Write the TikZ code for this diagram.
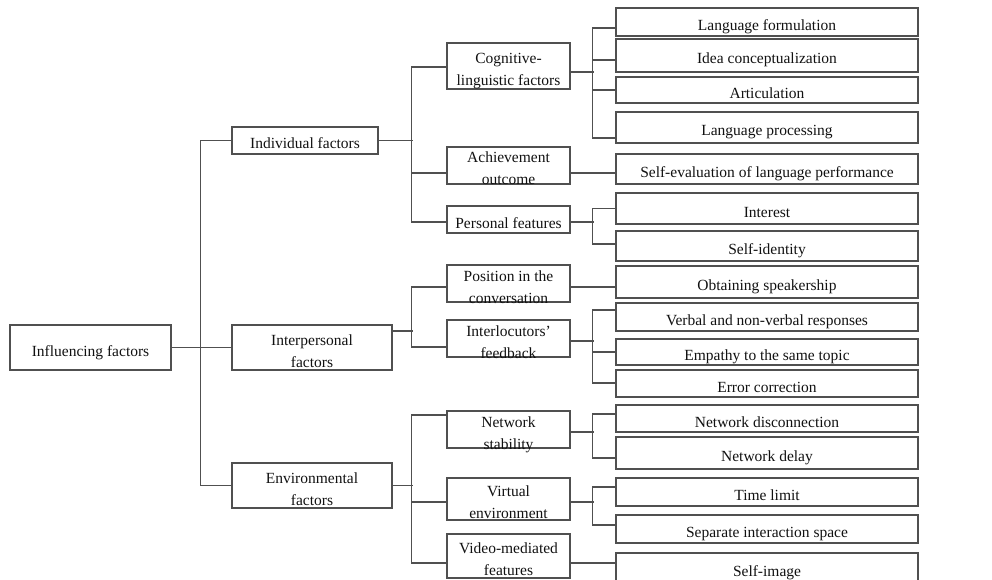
\documentclass[tikz,border=0pt]{standalone}
\usepackage{fontspec}
\setmainfont{Liberation Serif}
\usetikzlibrary{calc}
\definecolor{ln}{HTML}{505050}
\definecolor{tx}{HTML}{111111}
\newcommand{\tl}[1]{\raisebox{-7.7pt}[0pt][0pt]{\begin{tabular}{@{}c@{}}#1\end{tabular}}}
\begin{document}
\begin{tikzpicture}[x=1pt,y=-1pt,
  bx/.style={draw=ln, line width=1.2pt, inner sep=0pt, text=tx,
    font=\fontsize{15.5}{22}\selectfont},
  ln/.style={draw=ln, line width=1.2pt}]
\useasboundingbox (0,0) rectangle (992,580);
% level 0
\node[bx, minimum width=161, minimum height=45] (root) at (90.5,347.5) {\tl{Influencing factors}};
% level 1
\node[bx, minimum width=146, minimum height=27] (ind) at (305,140.5) {\tl{Individual factors}};
\node[bx, minimum width=160, minimum height=45] (inter) at (312,347.5) {\tl{Interpersonal\\factors}};
\node[bx, minimum width=160, minimum height=45] (env) at (312,485.5) {\tl{Environmental\\factors}};
% level 2
\tikzset{l2/.style={bx, minimum width=123}}
\node[l2, minimum height=46] (cog) at (508.5,66) {\tl{Cognitive-\\linguistic factors}};
\node[l2, minimum height=37] (ach) at (508.5,165.5) {\tl{Achievement\\outcome}};
\node[l2, minimum height=27] (pers) at (508.5,219.5) {\tl{Personal features}};
\node[l2, minimum height=37] (pos) at (508.5,283.5) {\tl{Position in the\\conversation}};
\node[l2, minimum height=37] (fb) at (508.5,338.5) {\tl{Interlocutors'\\feedback}};
\node[l2, minimum height=37] (net) at (508.5,429.5) {\tl{Network\\stability}};
\node[l2, minimum height=42] (virt) at (508.5,499) {\tl{Virtual\\environment}};
\node[l2, minimum height=44] (vid) at (508.5,556) {\tl{Video-mediated\\features}};
% level 3
\tikzset{l3/.style={bx, minimum width=302}}
\node[l3, minimum height=28] (lf) at (767,22) {\tl{Language formulation}};
\node[l3, minimum height=33] (ic) at (767,55.5) {\tl{Idea conceptualization}};
\node[l3, minimum height=26] (art) at (767,90) {\tl{Articulation}};
\node[l3, minimum height=31] (lp) at (767,127.5) {\tl{Language processing}};
\node[l3, minimum height=30] (se) at (767,169) {\tl{Self-evaluation of language performance}};
\node[l3, minimum height=31] (int) at (767,208.5) {\tl{Interest}};
\node[l3, minimum height=30] (sid) at (767,246) {\tl{Self-identity}};
\node[l3, minimum height=32] (obt) at (767,282) {\tl{Obtaining speakership}};
\node[l3, minimum height=28] (vb) at (767,317) {\tl{Verbal and non-verbal responses}};
\node[l3, minimum height=26] (emp) at (767,352) {\tl{Empathy to the same topic}};
\node[l3, minimum height=27] (err) at (767,383.5) {\tl{Error correction}};
\node[l3, minimum height=27] (nd) at (767,418.5) {\tl{Network disconnection}};
\node[l3, minimum height=32] (ndl) at (767,453) {\tl{Network delay}};
\node[l3, minimum height=28] (tl) at (767,492) {\tl{Time limit}};
\node[l3, minimum height=28] (sep) at (767,529) {\tl{Separate interaction space}};
\node[l3, minimum height=30] (si) at (767,568) {\tl{Self-image}};
% connectors level 0-1
\draw[ln] (root.east) -- (inter.west);
\draw[ln] (ind.west) -- ++(-31,0) |- (env.west);
% individual
\draw[ln] (ind.east) -- ++(34,0);
\draw[ln] ($(cog.west)+(0,1)$) -- ++(-35,0) |- ($(pers.west)+(0,2.5)$);
\draw[ln] ($(ach.west)+(0,7.5)$) -- ++(-35,0);
% interpersonal
\draw[ln] ($(inter.east)+(0,-16.5)$) -- ++(20,0);
\draw[ln] ($(pos.west)+(0,3.5)$) -- ++(-35,0) |- ($(fb.west)+(0,8.5)$);
% environmental
\draw[ln] (env.east) -- ++(20,0);
\draw[ln] ($(net.west)+(0,-14.5)$) -- ++(-35,0) |- ($(vid.west)+(0,7)$);
\draw[ln] ($(virt.west)+(0,3)$) -- ++(-35,0);
% cognitive
\draw[ln] ($(cog.east)+(0,6)$) -- ++(23,0);
\draw[ln] ($(lf.west)+(0,6)$) -- ++(-23,0) |- ($(lp.west)+(0,10.5)$);
\draw[ln] ($(ic.west)+(0,4.5)$) -- ++(-23,0);
\draw[ln] (art.west) -- ++(-23,0);
% achievement
\draw[ln] ($(ach.east)+(0,7.5)$) -- ($(se.west)+(0,4)$);
% personal
\draw[ln] ($(pers.east)+(0,2.5)$) -- ++(23,0);
\draw[ln] (int.west) -- ++(-23,0) |- ($(sid.west)+(0,-2)$);
% position
\draw[ln] ($(pos.east)+(0,3.5)$) -- ($(obt.west)+(0,5)$);
% feedback
\draw[ln] ($(fb.east)+(0,2.5)$) -- ++(23,0);
\draw[ln] ($(vb.west)+(0,-7)$) -- ++(-23,0) |- ($(err.west)+(0,-0.5)$);
\draw[ln] (emp.west) -- ++(-23,0);
% network
\draw[ln] ($(net.east)+(0,2.5)$) -- ++(23,0);
\draw[ln] ($(nd.west)+(0,-4.5)$) -- ++(-23,0) |- ($(ndl.west)+(0,5)$);
% virtual
\draw[ln] ($(virt.east)+(0,3)$) -- ++(23,0);
\draw[ln] ($(tl.west)+(0,-5)$) -- ++(-23,0) |- ($(sep.west)+(0,-4)$);
% video
\draw[ln] ($(vid.east)+(0,7)$) -- ($(si.west)+(0,-5)$);
\end{tikzpicture}
\end{document}
